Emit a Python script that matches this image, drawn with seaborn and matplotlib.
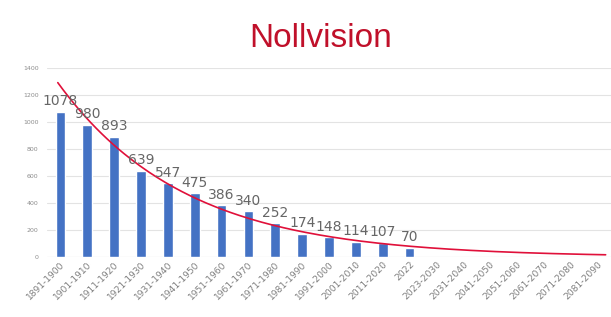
import numpy as np
import pandas as pd
import matplotlib
matplotlib.use("Agg")
import matplotlib.pyplot as plt
import seaborn as sns

# decades and counts
periods = ["1891-1900", "1901-1910", "1911-1920", "1921-1930", "1931-1940",
           "1941-1950", "1951-1960", "1961-1970", "1971-1980", "1981-1990",
           "1991-2000", "2001-2010", "2011-2020", "2022",
           "2023-2030", "2031-2040", "2041-2050", "2051-2060", "2061-2070",
           "2071-2080", "2081-2090"]
counts = [1078, 980, 893, 639, 547, 475, 386, 340, 252, 174, 148, 114, 107, 70]

vals = counts + [np.nan] * (len(periods) - len(counts))
df = pd.DataFrame({"period": periods, "count": vals})

sns.set_style("white")
fig = plt.figure(figsize=(6.11, 3.17), dpi=100)
ax = fig.add_axes([0.077, 0.189, 0.923, 0.596])

sns.barplot(data=df, x="period", y="count", color="#4472C4", width=0.36,
            saturation=1, ax=ax, zorder=3)

# data labels
for i, v in enumerate(counts):
    ax.text(i, v + 25, str(v), ha="center", va="bottom", fontsize=10,
            color="#666666", zorder=5)

# exponential trendline like Excel
xi = np.arange(len(counts))
b, a = np.polyfit(xi, np.log(counts), 1)
xs = np.linspace(-0.1, len(periods) - 0.7, 200)
ax.plot(xs, np.exp(a + b * xs), color="#E0103A", lw=1.2, zorder=4)

ax.set_xlim(-0.5, len(periods) - 0.5)
ax.set_ylim(0, 1400)
ax.set_yticks(range(0, 1401, 200))
ax.yaxis.grid(True, color="#E3E3E3", lw=0.8, zorder=0)
ax.set_axisbelow(True)
ax.set_xlabel("")
ax.set_ylabel("")
for s in ax.spines.values():
    s.set_visible(False)
ax.axhline(0, color="#D9D9D9", lw=0.8, zorder=1)
ax.tick_params(axis="y", labelsize=4.5, labelcolor="#8C8C8C", length=0, pad=6)
ax.tick_params(axis="x", labelsize=6.6, labelcolor="#7F7F7F", length=0, pad=2)
plt.setp(ax.get_xticklabels(), rotation=45, ha="right", rotation_mode="anchor")

fig.text(0.525, 0.88, "Nollvision", ha="center", va="center", fontsize=24,
         color="#C0102A", family="Liberation Sans")

fig.savefig("out.png", dpi=100)
